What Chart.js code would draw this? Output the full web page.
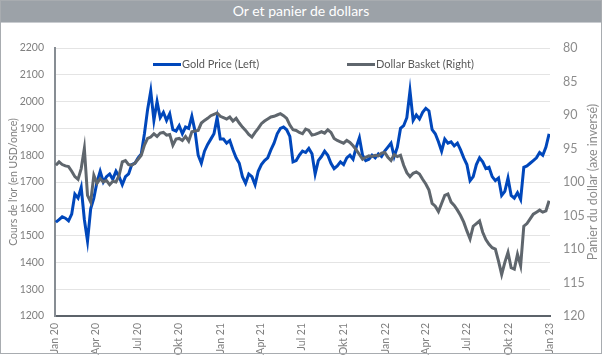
<!DOCTYPE html>
<html><head><meta charset="utf-8">
<script src="https://cdn.jsdelivr.net/npm/chart.js@4"></script>
<style>
html,body{margin:0;padding:0;background:#fff;}
#wrap{position:relative;width:602px;height:355px;overflow:hidden;font-family:Lato,"Liberation Sans",sans-serif;}
#c{position:absolute;left:0;top:0;}
#head{position:absolute;left:0;top:0;width:602px;height:22px;background:#9ca2a8;color:#fff;font-size:14px;line-height:22px;text-align:center;border-bottom:1px solid #c9ccd0;}
#frame{position:absolute;left:0;top:0;width:600px;height:352px;border:1px solid #a8acb0;pointer-events:none;}
.leg{position:absolute;top:57px;font-size:11px;color:#595959;white-space:nowrap;line-height:14px;}
.leg i{display:inline-block;width:28px;height:3px;vertical-align:middle;margin-right:1px;position:relative;top:-1px;}
</style></head>
<body>
<div id="wrap">
  <canvas id="c" width="602" height="355"></canvas>
  <div id="head">Or et panier de dollars</div>
  <div class="leg" style="left:153px"><i style="background:#0047bb"></i>Gold Price (Left)</div>
  <div class="leg" style="left:347px"><i style="background:#5f666d"></i>Dollar Basket (Right)</div>
  <div id="frame"></div>
</div>
<script>
// Weekly observations, first week ending 3 Jan 2020
const startDay = 2;
const goldPrice = [1550,1560,1570,1565,1555,1580,1655,1640,1680,1560,1480,1600,1640,1700,1740,1700,1720,1730,1710,1740,
1720,1690,1720,1730,1765,1770,1790,1805,1880,1970,2040,1930,2000,1940,1960,1930,1955,1895,1890,1910,
1880,1905,1900,1945,1890,1800,1770,1815,1840,1860,1880,1940,1860,1860,1845,1855,1820,1790,1770,1720,
1695,1730,1720,1690,1740,1765,1780,1790,1820,1845,1880,1900,1905,1895,1870,1775,1780,1800,1815,1810,
1825,1805,1730,1780,1795,1815,1800,1770,1750,1760,1775,1765,1790,1800,1785,1830,1865,1800,1780,1785,
1800,1790,1805,1795,1815,1830,1845,1795,1830,1900,1910,1940,2040,1930,1950,1935,1960,1975,1965,1895,
1880,1850,1815,1860,1845,1850,1835,1845,1820,1790,1765,1705,1720,1765,1790,1775,1750,1755,1720,1705,
1715,1650,1665,1715,1650,1640,1660,1635,1755,1760,1770,1780,1790,1810,1800,1830,1880];
const dollarBasket = [97.5,97.0,97.4,97.6,97.7,98.4,99.2,99.6,98.0,95.0,102.0,103.0,99.0,100.2,99.5,100.0,99.8,100.4,99.9,100.0,
99.0,97.0,96.8,97.4,97.5,97.2,96.6,96.0,94.5,93.5,93.3,92.8,93.2,92.7,92.6,93.0,92.9,94.5,93.6,93.5,
93.8,93.2,93.9,92.5,92.4,92.3,91.2,90.8,90.5,90.1,89.9,89.7,90.2,90.4,90.6,90.3,90.9,90.5,91.2,91.8,
92.3,92.9,93.3,92.6,92.0,91.3,90.9,90.6,90.3,90.2,90.0,89.8,90.1,90.5,91.5,92.2,92.3,92.6,92.8,92.1,
92.3,93.0,92.9,92.7,92.5,92.7,92.2,92.6,93.5,93.8,94.0,94.2,93.8,94.1,94.6,95.2,95.9,96.6,96.3,96.1,
96.2,96.0,96.1,95.7,95.6,96.3,96.8,95.9,96.2,96.0,97.5,98.6,99.2,98.7,98.5,98.8,99.6,100.3,101.2,103.2,
103.6,104.4,103.2,102.0,101.8,103.0,103.5,104.2,105.0,106.0,107.3,108.5,106.6,106.2,105.8,107.5,108.6,109.3,109.8,110.0,
111.8,113.8,112.0,110.5,112.8,113.0,110.8,112.5,106.6,106.2,105.5,104.8,104.5,104.2,104.5,104.3,102.8];
const tickLabels = ["Jan 20","Apr 20","Jul 20","Okt 20","Jan 21","Apr 21","Jul 21","Okt 21","Jan 22","Apr 22","Jul 22","Okt 22","Jan 23"];
const leftTicks = [1200,1300,1400,1500,1600,1700,1800,1900,2000,2100,2200];
const rightTicks = [80,85,90,95,100,105,110,115,120];
const leftTitle = "Cours de l'or (en USD/once)";
const rightTitle = "Panier du dollar (axe inversé)";

const DAY = 86400000, T0 = Date.UTC(2020,0,1);
const tickDays = tickLabels.map((_,k)=>(Date.UTC(2020,3*k,1)-T0)/DAY);
const goldPts = goldPrice.map((v,i)=>({x:startDay+7*i,y:v}));
const dollarPts = dollarBasket.map((v,i)=>({x:startDay+7*i,y:v}));

const FONT = 'Lato, "Liberation Sans", sans-serif';
const axisTitles = {
  id:'axisTitles',
  afterDraw(chart){
    const ctx = chart.ctx, a = chart.chartArea, cy = (a.top+a.bottom)/2;
    ctx.save();
    ctx.textAlign='center'; ctx.textBaseline='middle';
    ctx.fillStyle='#7f7f7f'; ctx.font='10.5px '+FONT;
    ctx.translate(14,cy); ctx.rotate(-Math.PI/2); ctx.fillText(leftTitle,0,0);
    ctx.restore();
    ctx.save();
    ctx.textAlign='center'; ctx.textBaseline='middle';
    ctx.fillStyle='#8c8c8c'; ctx.font='12.5px '+FONT;
    ctx.translate(593,cy); ctx.rotate(-Math.PI/2); ctx.fillText(rightTitle,0,0);
    ctx.restore();
  }
};

new Chart(document.getElementById('c'), {
  type:'line',
  data:{datasets:[
    {label:'Gold Price (Left)', data:goldPts, yAxisID:'y', borderColor:'#0047bb', borderWidth:3, pointRadius:0, tension:0, order:2},
    {label:'Dollar Basket (Right)', data:dollarPts, yAxisID:'y1', borderColor:'#5f666d', borderWidth:3, pointRadius:0, tension:0, order:1}
  ]},
  options:{
    responsive:false, animation:false, devicePixelRatio:1,
    layout:{padding:{top:48,left:0,right:0,bottom:0}},
    plugins:{legend:{display:false}, title:{display:false}, tooltip:{enabled:false}},
    scales:{
      x:{type:'linear', min:0, max:1096,
        afterBuildTicks(s){ s.ticks = tickDays.map(v=>({value:v})); },
        afterFit(s){ s.height = 39; },
        grid:{display:false, drawTicks:false},
        border:{display:true, color:'#5c636a', width:2},
        ticks:{autoSkip:false, maxRotation:90, minRotation:90, padding:7, color:'#7f7f7f',
          font:{family:FONT, size:10.5}, callback:(v,i)=>tickLabels[i]}
      },
      y:{position:'left', min:1200, max:2200,
        afterBuildTicks(s){ s.ticks = leftTicks.map(v=>({value:v})); },
        afterFit(s){ s.width = 55; },
        grid:{color:'#e4e4e4', lineWidth:1, drawTicks:false},
        border:{display:true, color:'#878d93', width:2},
        ticks:{padding:11, color:'#7f7f7f', font:{family:FONT, size:10.5}, callback:(v)=>String(v)}
      },
      y1:{position:'right', min:80, max:120, reverse:true,
        afterBuildTicks(s){ s.ticks = rightTicks.map(v=>({value:v})); },
        afterFit(s){ s.width = 52; },
        grid:{display:false, drawTicks:false},
        border:{display:false},
        ticks:{padding:13, color:'#8c8c8c', font:{family:FONT, size:12.5}, callback:(v)=>String(v)}
      }
    }
  },
  plugins:[axisTitles]
});
</script>
</body></html>
